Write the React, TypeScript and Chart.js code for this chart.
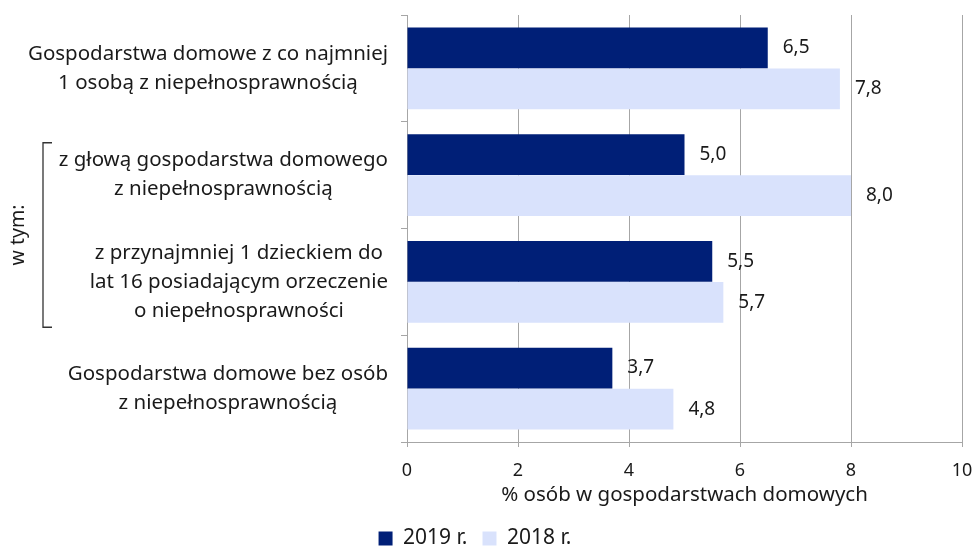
import React, { useEffect, useRef } from "react";
import { Chart, registerables } from "chart.js";

Chart.register(...registerables);

const categories: string[][] = [
  ["Gospodarstwa domowe z co najmniej", "1 osobą z niepełnosprawnością"],
  ["z głową gospodarstwa domowego", "z niepełnosprawnością"],
  ["z przynajmniej 1 dzieckiem do", "lat 16 posiadającym orzeczenie", "o niepełnosprawności"],
  ["Gospodarstwa domowe bez osób", "z niepełnosprawnością"],
];
const series2019 = [6.5, 5.0, 5.5, 3.7];
const series2018 = [7.8, 8.0, 5.7, 4.8];
const seriesNames = ["2019 r.", "2018 r."];
const xTickValues = [0, 2, 4, 6, 8, 10];
const axisTitle = "% osób w gospodarstwach domowych";
const groupLabel = "w tym:";

const FONT = "'Noto Sans', sans-serif";
const TEXT = "#1a1a1a";
const GRID = "#a6a6a6";

const yLabelsPlugin = {
  id: "yLabels",
  afterDraw(chart: any) {
    const { ctx } = chart;
    const y = chart.scales.y;
    ctx.save();
    ctx.font = `20.5px ${FONT}`;
    ctx.fillStyle = TEXT;
    ctx.textAlign = "center";
    ctx.textBaseline = "middle";
    const lh = 29;
    const right = 388;
    categories.forEach((lines, i) => {
      const cy = y.getPixelForValue(i);
      const w = Math.max(...lines.map((l) => ctx.measureText(l).width));
      const cx = right - w / 2;
      const start = cy - ((lines.length - 1) * lh) / 2;
      lines.forEach((l, j) => ctx.fillText(l, cx, start + j * lh));
    });
    // bracket for "w tym:"
    const top = (y.getPixelForValue(0) + y.getPixelForValue(1)) / 2 + 21;
    const bottom = (y.getPixelForValue(2) + y.getPixelForValue(3)) / 2 - 8;
    ctx.strokeStyle = "#333";
    ctx.lineWidth = 1.3;
    ctx.beginPath();
    ctx.moveTo(52, top);
    ctx.lineTo(43, top);
    ctx.lineTo(43, bottom);
    ctx.lineTo(52, bottom);
    ctx.stroke();
    ctx.font = `19.5px ${FONT}`;
    ctx.translate(18, (top + bottom) / 2);
    ctx.rotate(-Math.PI / 2);
    ctx.fillText(groupLabel, 0, 0);
    ctx.restore();
  },
};

const valueLabelsPlugin = {
  id: "valueLabels",
  afterDatasetsDraw(chart: any) {
    const { ctx } = chart;
    ctx.save();
    ctx.font = `19px ${FONT}`;
    ctx.fillStyle = TEXT;
    ctx.textAlign = "left";
    ctx.textBaseline = "middle";
    chart.data.datasets.forEach((ds: any, di: number) => {
      const meta = chart.getDatasetMeta(di);
      meta.data.forEach((el: any, i: number) => {
        const v = ds.data[i] as number;
        ctx.fillText(v.toFixed(1).replace(".", ","), el.x + 15, el.y);
      });
    });
    ctx.restore();
  },
};

export default function App() {
  const ref = useRef<HTMLCanvasElement>(null);
  useEffect(() => {
    if (!ref.current) return;
    const chart = new Chart(ref.current, {
      type: "bar",
      data: {
        labels: categories,
        datasets: [
          {
            label: seriesNames[0],
            data: series2019,
            backgroundColor: "#001F77",
            categoryPercentage: 0.77,
            barPercentage: 0.99,
          },
          {
            label: seriesNames[1],
            data: series2018,
            backgroundColor: "#D9E2FC",
            categoryPercentage: 0.77,
            barPercentage: 0.99,
          },
        ],
      },
      options: {
        indexAxis: "y",
        responsive: false,
        animation: false,
        layout: { padding: { top: 15, right: 14, left: -12, bottom: -11 } },
        plugins: {
          legend: {
            position: "bottom",
            labels: {
              font: { family: FONT, size: 21 },
              color: TEXT,
              boxWidth: 14,
              boxHeight: 14,
              padding: 15,
            },
          },
          tooltip: { enabled: false },
        },
        scales: {
          x: {
            min: 0,
            max: 10,
            afterBuildTicks: (s: any) => {
              s.ticks = xTickValues.map((v) => ({ value: v }));
            },
            afterFit: (s: any) => {
              s.height = 71;
              s.paddingRight = 14;
            },
            ticks: {
              font: { family: FONT, size: 18 },
              color: TEXT,
              padding: 13,
            },
            grid: { color: GRID, tickLength: 5, drawTicks: true },
            border: { color: GRID },
            title: {
              display: true,
              text: axisTitle,
              font: { family: FONT, size: 20.5 },
              color: TEXT,
              padding: { top: 0, bottom: 6 },
            },
          },
          y: {
            afterFit: (s: any) => {
              s.width = 419;
            },
            ticks: { display: false },
            grid: {
              drawOnChartArea: false,
              drawTicks: true,
              tickLength: 6,
              offset: true,
              color: GRID,
            },
            border: { color: GRID },
          },
        },
      },
      plugins: [yLabelsPlugin, valueLabelsPlugin],
    });
    return () => chart.destroy();
  }, []);
  return (
    <div style={{ position: "fixed", left: 0, top: 0, width: 976, height: 548, background: "#fff" }}>
      <canvas ref={ref} width={976} height={548} style={{ display: "block" }} />
    </div>
  );
}
